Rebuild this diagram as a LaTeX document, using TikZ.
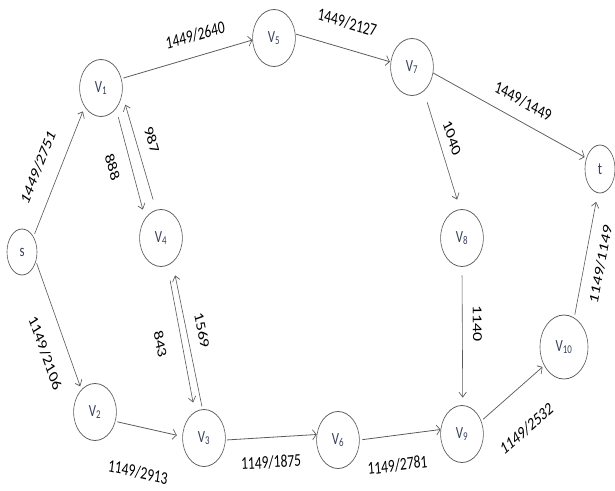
\documentclass[tikz,border=0pt]{standalone}
\usepackage{fontspec}
\setmainfont{Carlito}
\usetikzlibrary{arrows.meta,shapes.geometric}
\definecolor{edgegray}{RGB}{90,90,90}
\definecolor{vertexink}{RGB}{55,65,90}

\begin{document}
\begin{tikzpicture}[x=1pt,y=-1pt,>={Straight Barb[length=5pt,width=10pt]},
 vertex/.style={circle,draw=edgegray,line width=0.8pt,minimum size=57pt,inner sep=0pt,text=vertexink,font=\fontsize{17}{17}\selectfont},
 terminal/.style={vertex,ellipse,minimum width=40pt,minimum height=46pt},
 flow/.style={->,draw=edgegray,line width=0.8pt},
 flowlabel/.style={sloped,inner sep=1pt,text=black,font=\fontsize{18}{18}\selectfont}]
\useasboundingbox (0,0) rectangle (615,490);
\begin{scope}[transform canvas={xscale=0.75},x=1.3333pt]
\node[terminal] (s) at (22,252) {s};
\node[vertex] (v1) at (101,88) {V\textsubscript{1}};
\node[vertex] (v5) at (274,38) {V\textsubscript{5}};
\node[vertex] (v7) at (412,67) {V\textsubscript{7}};
\node[terminal,minimum height=48pt] (t) at (600,169) {t};
\node[vertex] (v4) at (161,238) {V\textsubscript{4}};
\node[vertex] (v8) at (462,238) {V\textsubscript{8}};
\node[vertex] (v2) at (95,412) {V\textsubscript{2}};
\node[vertex] (v3) at (204,438) {V\textsubscript{3}};
\node[vertex] (v6) at (338,440) {V\textsubscript{6}};
\node[vertex] (v9) at (462,434) {V\textsubscript{9}};
\node[vertex,minimum size=64pt] (v10) at (564,347) {V\textsubscript{10}};
\draw[flow,shorten <=3pt,shorten >=5pt] (s.45) -- node[flowlabel,pos=.44,yshift=27pt] (l2751) {1449/2751} (v1.221);
\draw[flow,shorten <=2pt,shorten >=3.5pt] (s.-27) -- node[flowlabel,pos=.62,yshift=-28pt] (l2106) {1149/2106} (v2.129);
\draw[flow,shorten <=2.5pt] (v1.19) -- node[flowlabel,pos=.59,yshift=21pt] (l2640) {1449/2640} (v5.184);
\draw[flow,shorten <=1pt,shorten >=1pt] (v5.8) -- node[flowlabel,pos=.5,yshift=26pt] (l2127) {1449/2127} (v7.170);
\draw[flow,shorten >=2.5pt] (v7.-12) -- node[flowlabel,pos=.55,yshift=20pt] (l1449) {1449/1449} (t.149);
\draw[flow,shorten <=12pt,shorten >=10.4pt] (v7.-57) -- node[flowlabel,pos=.45,yshift=17pt] (l1040) {1040} (v8.95.6);
\draw[flow,shorten <=8.5pt,shorten >=7.5pt] (v8.-90) -- node[flowlabel,pos=.41,yshift=20pt] (l1140) {1140} (v9.88);
\draw[flow,shorten <=2.5pt,shorten >=7.5pt] (v2.-19) -- node[flowlabel,pos=.42,yshift=-45pt] (l2913) {1149/2913} (v3.177);
\draw[flow,shorten <=2pt] (v3.-4) -- node[flowlabel,pos=.49,yshift=-25pt] (l1875) {1149/1875} (v6.169);
\draw[flow,shorten <=3.5pt] (v6.0) -- node[flowlabel,pos=.44,yshift=-30pt] (l2781) {1149/2781} (v9.171);
\draw[flow,shorten <=3pt,shorten >=2.5pt] (v9.27) -- node[flowlabel,pos=.46,yshift=-40pt] (l2532) {1149/2532} (v10.215);
\draw[flow,shorten <=3pt,shorten >=9pt] (v10.65) -- node[flowlabel,pos=.47,yshift=-21pt] (l1149) {1149/1149} (t.263);
\draw[flow,shorten <=8.9pt,shorten >=9.2pt] (v1.-46.4) -- node[flowlabel,pos=.46,yshift=-24pt] (l888) {888} (v4.137.3);
\draw[flow,shorten <=11pt,shorten >=11.5pt] (v4.103.6) -- node[flowlabel,pos=.54,yshift=20pt] (l987) {987} (v1.-12.8);
\draw[flow,shorten <=15.2pt,shorten >=9.6pt] (v4.-73) -- node[flowlabel,pos=.49,yshift=-28pt] (l843) {843} (v3.115.8);
\draw[flow,shorten <=2.7pt,shorten >=13.3pt] (v3.94) -- node[flowlabel,pos=.5,yshift=20pt] (l1569) {1569} (v4.-58);
\end{scope}
\end{tikzpicture}
\end{document}
